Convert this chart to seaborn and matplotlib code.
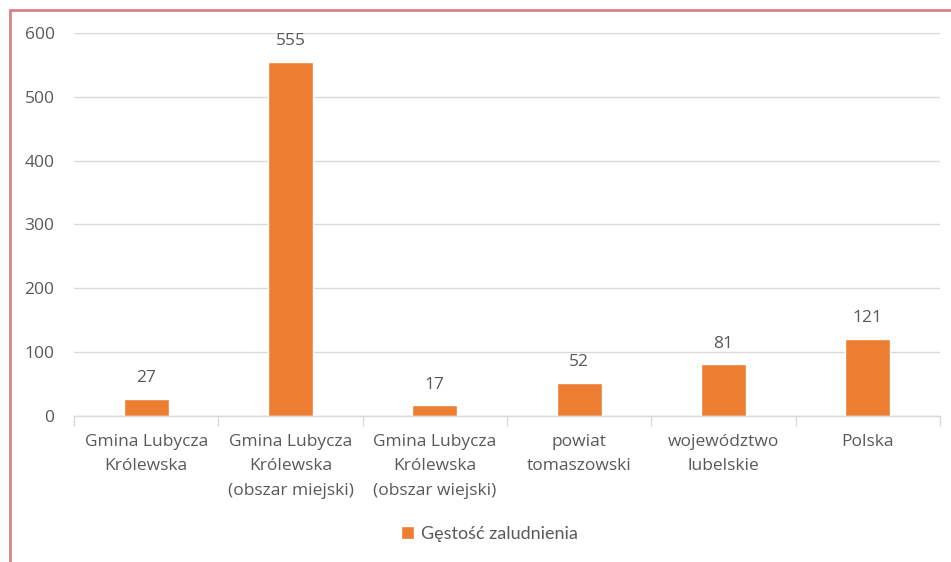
import numpy as np
import pandas as pd
import matplotlib.pyplot as plt
import seaborn as sns
from matplotlib.lines import Line2D

categories = ['Gmina Lubycza\nKrólewska',
              'Gmina Lubycza\nKrólewska\n(obszar miejski)',
              'Gmina Lubycza\nKrólewska\n(obszar wiejski)',
              'powiat\ntomaszowski',
              'województwo\nlubelskie',
              'Polska']
values = [27, 555, 17, 52, 81, 121]
series = 'Gęstość zaludnienia'

df = pd.DataFrame({'kategoria': categories, 'wartosc': values, 'seria': series})

sns.set_style('white')
plt.rcParams['font.family'] = ['Open Sans', 'DejaVu Sans']
text_color = '#595959'
orange = '#ED7D31'

fig = plt.figure(figsize=(9.51, 5.62), dpi=100)
ax = fig.add_axes([74 / 951, 1 - 416 / 562, (940 - 74) / 951, (416 - 33) / 562])

sns.barplot(data=df, x='kategoria', y='wartosc', hue='seria', palette=[orange],
            width=0.31, saturation=1, ax=ax, legend=True)

ax.set_ylim(0, 600)
ax.set_xlim(-0.5, len(categories) - 0.5)
ax.set_yticks(range(0, 601, 100))
ax.yaxis.grid(True, color='#d9d9d9', linewidth=1)
ax.set_axisbelow(True)
for s in ['top', 'right', 'left']:
    ax.spines[s].set_visible(False)
ax.spines['bottom'].set_color('#d9d9d9')
ax.spines['bottom'].set_linewidth(1)
ax.set_xlabel('')
ax.set_ylabel('')

# category boundary ticks like Excel
ax.set_xticks(np.arange(len(categories)))
ax.set_xticklabels(categories, fontsize=12.5, color=text_color, linespacing=1.7)
ax.tick_params(axis='x', length=0, pad=13)
ax.set_xticks(np.arange(-0.5, len(categories)), minor=True)
ax.tick_params(axis='x', which='minor', bottom=True, length=7, color='#d9d9d9', width=1)
ax.tick_params(axis='y', length=0, labelsize=12.5, labelcolor=text_color, pad=14)

for c in ax.containers:
    ax.bar_label(c, labels=[str(v) for v in values], padding=9, fontsize=12.5, color=text_color)

leg = ax.legend(loc='center', bbox_to_anchor=(0.48, -0.308), frameon=False,
                handlelength=0.7, handleheight=0.7, handletextpad=0.4,
                prop={'family': ['Lato', 'DejaVu Sans'], 'size': 13})
for t in leg.get_texts():
    t.set_color(text_color)

# reddish frame around the chart (left and top edges visible)
border = '#d98088'
fig.add_artist(Line2D([9.5 / 951, 9.5 / 951], [0, 1 - 9.5 / 562], transform=fig.transFigure,
                      color=border, linewidth=2))
fig.add_artist(Line2D([9.5 / 951, 1], [1 - 9.5 / 562, 1 - 9.5 / 562], transform=fig.transFigure,
                      color=border, linewidth=2))

fig.savefig('out.png', dpi=100)
